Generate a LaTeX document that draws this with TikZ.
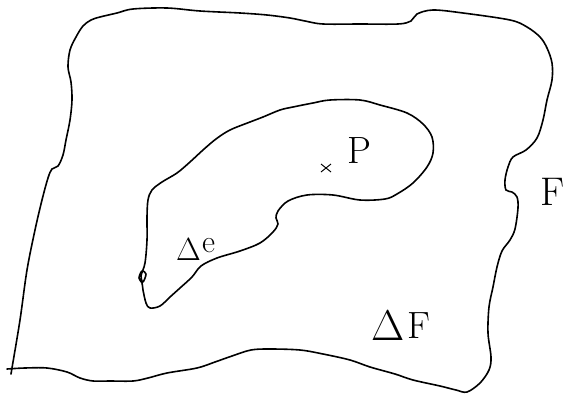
\documentclass[tikz,border=0pt]{standalone}
\usepackage{fontspec}
\begin{document}
\begin{tikzpicture}[x=1pt,y=-1pt,
  curve/.style={line width=1.6pt, line join=round, line cap=round},
  lbl/.style={inner sep=0pt, anchor=base west, font=\rmfamily\fontsize{38}{44}\selectfont},
  small/.style={inner sep=0pt, anchor=base west, font=\rmfamily\fontsize{32}{38}\selectfont}]
\useasboundingbox (0,0) rectangle (563,394);
% outer region F
\draw[curve] plot[smooth, tension=0.55] coordinates {
 (11,374) (12,368) (20,320) (27,270) (35,230) (42,200) (48,178) (52,169) (58,166)
 (63,155) (66,140) (70,120) (72,100) (71,82) (68,67) (70,50) (76,37) (83,26)
 (91,20) (100,17) (117,13) (133,9) (167,8) (200,11) (240,13) (267,15) (290,18)
 (305,21) (323,24) (360,24) (398,24) (411,21) (417,14) (433,10) (463,13)
 (510,20) (527,27) (540,37) (547,48) (552,63) (552,80) (547,100) (543,120)
 (537,138) (526,150) (513,157) (508,167) (505,180) (506,190) (512,192)
 (517,197) (518,208) (515,229) (510,240) (502,251) (497,267) (493,287)
 (489,307) (488,333) (491,357) (489,370) (480,383) (467,392) (456,390)
 (440,386) (413,380) (395,374) (370,367) (350,360) (323,354) (300,350)
 (270,349) (251,350) (232,356) (215,362) (197,368) (167,373) (148,378)
 (133,381) (110,381) (93,381) (80,378) (67,372) (47,368) (25,368) (7,369)};
% inner region e
\draw[curve] plot[smooth cycle, tension=0.55] coordinates {
 (313,103) (330,100) (360,100) (380,105) (407,113) (423,124) (432,137)
 (433,153) (427,167) (413,183) (397,194) (385,199) (360,200) (333,195)
 (307,195) (288,201) (278,211) (276,218) (278,224) (273,232) (260,243)
 (240,251) (217,258) (201,266) (192,277) (180,288) (170,297) (160,306)
 (150,308) (146,303) (143,290) (142,283) (139,278) (142,271) (146,274)
 (143,282) (141,276) (145,263) (147,240) (147,217) (148,200) (152,190)
 (162,182) (177,173) (190,162) (203,150) (216,139) (230,130) (250,122)
 (263,117) (280,110) (293,107)};
% point P
\coordinate (pp) at (326,168);
\draw[line width=1pt] ([shift={(-5,-4)}]pp) -- ([shift={(5,4)}]pp)
                      ([shift={(-5,4)}]pp) -- ([shift={(5,-4)}]pp);
\node[lbl] (P) at (347,163) {P};
\node[lbl, font=\rmfamily\fontsize{40}{46}\selectfont] (F) at (540,205) {F};
\node[small] (de) at (176,260) {Δ};
\node[small] (e) at (202,252) {e};
\node[lbl, font=\rmfamily\fontsize{43}{48}\selectfont] (dF) at (371,340) {Δ};
\node[lbl] (F2) at (407,338) {F};
\end{tikzpicture}
\end{document}
